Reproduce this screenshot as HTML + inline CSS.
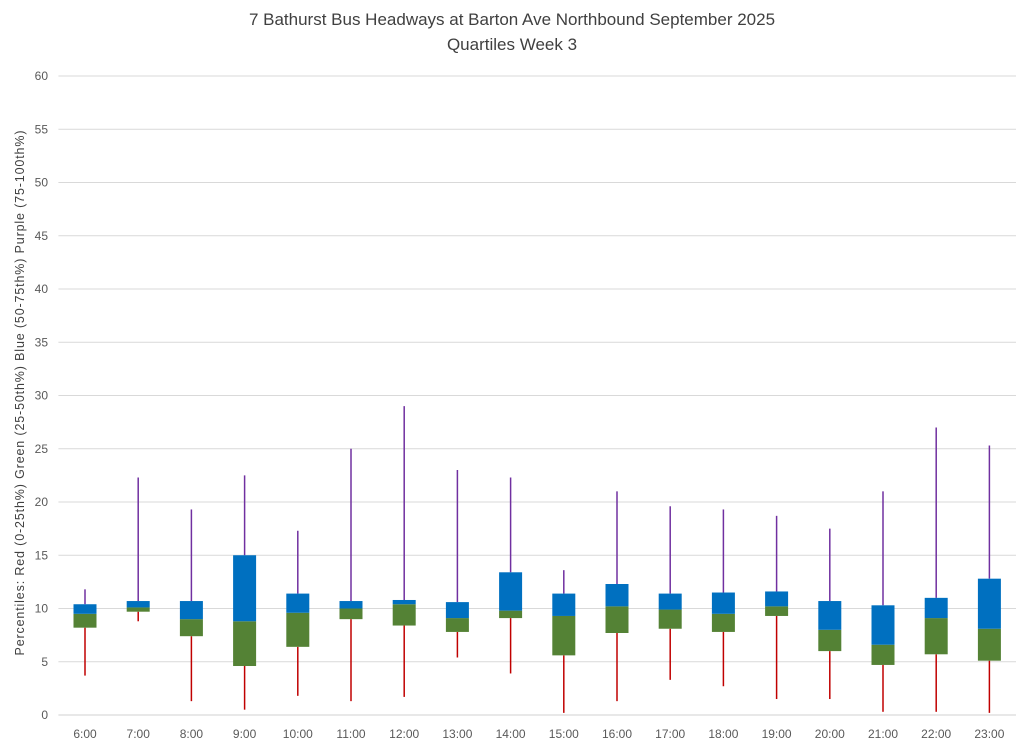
<!DOCTYPE html>
<html><head><meta charset="utf-8"><style>
body{margin:0;background:#fff;font-family:"Liberation Sans",sans-serif}
svg text{font-family:"Liberation Sans",sans-serif}
</style></head><body>
<svg id="chart" width="1024" height="746" xmlns="http://www.w3.org/2000/svg">
<text x="512" y="25" text-anchor="middle" font-size="17" fill="#404040">7 Bathurst Bus Headways at Barton Ave Northbound September 2025</text>
<text x="512" y="50" text-anchor="middle" font-size="17" fill="#404040">Quartiles Week 3</text>
<text transform="translate(24,393) rotate(-90)" text-anchor="middle" font-size="12.5" fill="#404040" textLength="525" lengthAdjust="spacing">Percentiles: Red (0-25th%)  Green (25-50th%)  Blue (50-75th%)  Purple (75-100th%)</text>
<g id="grid"></g><g id="marks"></g><g id="labels"></g>
</svg>
<script>
const categories=["6:00","7:00","8:00","9:00","10:00","11:00","12:00","13:00","14:00","15:00","16:00","17:00","18:00","19:00","20:00","21:00","22:00","23:00"];
const minVals=[3.7,8.8,1.3,0.5,1.8,1.3,1.7,5.4,3.9,0.2,1.3,3.3,2.7,1.5,1.5,0.3,0.3,0.2];
const q1Vals=[8.2,9.7,7.4,4.6,6.4,9.0,8.4,7.8,9.1,5.6,7.7,8.1,7.8,9.3,6.0,4.7,5.7,5.1];
const medVals=[9.5,10.1,9.0,8.8,9.6,10.0,10.4,9.1,9.8,9.3,10.2,9.9,9.5,10.2,8.0,6.6,9.1,8.1];
const q3Vals=[10.4,10.7,10.7,15.0,11.4,10.7,10.8,10.6,13.4,11.4,12.3,11.4,11.5,11.6,10.7,10.3,11.0,12.8];
const maxVals=[11.8,22.3,19.3,22.5,17.3,25.0,29.0,23.0,22.3,13.6,21.0,19.6,19.3,18.7,17.5,21.0,27.0,25.3];
const yTicks=[0,5,10,15,20,25,30,35,40,45,50,55,60];
const NS="http://www.w3.org/2000/svg";
const L=58.4,R=1016,T=76,B=715,YMAX=60;
const step=(R-L)/categories.length;
const y=v=>B-(v/YMAX)*(B-T);
const x=i=>L+step*(i+0.5);
function mk(tag,attrs,parent,txt){const e=document.createElementNS(NS,tag);for(const k in attrs)e.setAttribute(k,attrs[k]);if(txt!==undefined)e.textContent=txt;parent.appendChild(e);return e;}
const grid=document.getElementById('grid'),marks=document.getElementById('marks'),labels=document.getElementById('labels');
yTicks.forEach(t=>{
 const g=mk('line',{x1:L,x2:R,y1:y(t),y2:y(t),stroke:t===0?'#d0d0d0':'#d9d9d9','stroke-width':1},grid);
 
 
 const tx=mk('text',{x:48,y:y(t)+4,'text-anchor':'end','font-size':12,fill:'#595959'},labels,String(t));
 
 
});
const bw=23;
categories.forEach((c,i)=>{
 const cx=x(i);
 const lw=mk('line',{x1:cx,x2:cx,y1:y(minVals[i]),y2:y(q1Vals[i]),stroke:'#c00000','stroke-width':1.5},marks);
 
 
 const uw=mk('line',{x1:cx,x2:cx,y1:y(maxVals[i]),y2:y(q3Vals[i]),stroke:'#7030a0','stroke-width':1.5},marks);
 
 
 const gb=mk('rect',{x:cx-bw/2,y:y(medVals[i]),width:bw,height:y(q1Vals[i])-y(medVals[i]),fill:'#548235'},marks);
 
 
 const bb=mk('rect',{x:cx-bw/2,y:y(q3Vals[i]),width:bw,height:y(medVals[i])-y(q3Vals[i]),fill:'#0070c0'},marks);
 
 
 const t=mk('text',{x:cx,y:738,'text-anchor':'middle','font-size':12,fill:'#595959'},labels,c);
 
 
});
</script>
</body></html>
